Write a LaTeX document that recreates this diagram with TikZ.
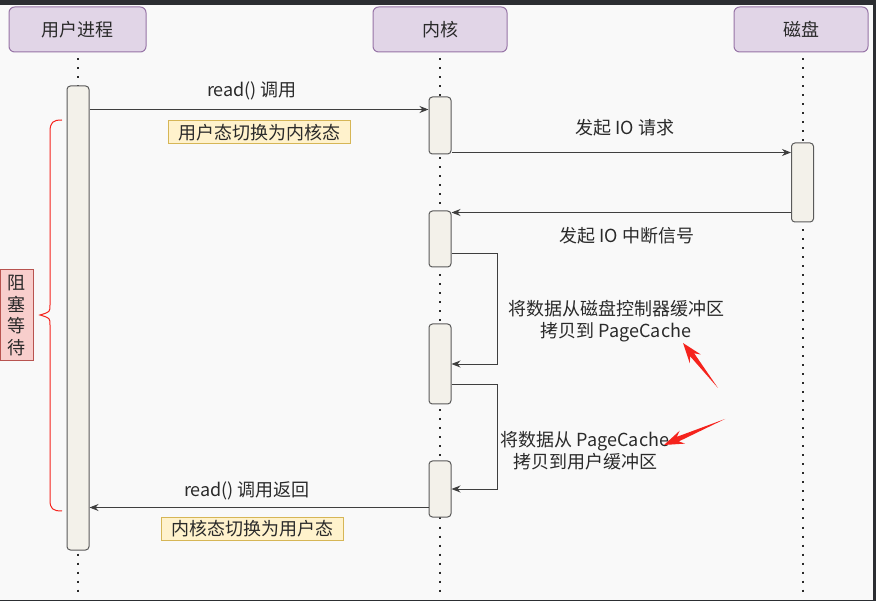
\documentclass[tikz,border=0pt]{standalone}
\usepackage{fontspec}
\setmainfont{Noto Sans CJK SC}
\usetikzlibrary{arrows.meta, positioning, calc}
\definecolor{framedark}{HTML}{2C2E32}
\definecolor{canvasbg}{HTML}{F9F9F9}
\definecolor{headfill}{HTML}{E1D5E7}
\definecolor{headdraw}{HTML}{9673A6}
\definecolor{actfill}{HTML}{F3F1EA}
\definecolor{actdraw}{HTML}{5A5A5A}
\definecolor{notefill}{HTML}{FFF2CC}
\definecolor{notedraw}{HTML}{D6B656}
\definecolor{waitfill}{HTML}{F8CECC}
\definecolor{waitdraw}{HTML}{B85450}
\definecolor{annotred}{HTML}{F5231D}
\definecolor{inkdark}{HTML}{2A2A2A}
\tikzset{
  head_box/.style={rectangle, draw=headdraw, fill=headfill, rounded corners=2mm, line width=1pt, minimum width=134pt, minimum height=45pt, font=\fontsize{18}{21}\selectfont, text=inkdark},
  act_box/.style={rectangle, draw=actdraw, fill=actfill, rounded corners=1.2mm, line width=1pt, minimum width=22pt, inner sep=0pt},
  lifeline/.style={line width=2pt, dash pattern=on 2pt off 7pt, inkdark},
  msg/.style={-{Stealth[length=9pt, width=7pt]}, line width=0.9pt, inkdark!90},
  msg_label/.style={font=\fontsize{18}{22}\selectfont, text=inkdark, align=center},
  note_box/.style={rectangle, draw=notedraw, fill=notefill, line width=1pt, minimum height=23pt, inner sep=1pt, font=\fontsize{18}{20}\selectfont, text=inkdark},
  wait_box/.style={rectangle, draw=waitdraw, fill=waitfill, line width=1pt, minimum width=33pt, minimum height=91pt, inner sep=0pt, align=center, font=\fontsize{18}{21.5}\selectfont, text=inkdark},
  wait_brace/.style={annotred, line width=1pt}
}
% red marker arrow: #1 tail, #2 tip
\newcommand{\markarrow}[2]{%
  \fill[annotred] (#2) -- ($(#2)!20pt!(#1)!7pt!90:(#1)$) -- ($(#2)!15pt!(#1)!2.5pt!90:(#1)$) -- (#1)
    -- ($(#2)!15pt!(#1)!2.5pt!-90:(#1)$) -- ($(#2)!20pt!(#1)!7pt!-90:(#1)$) -- cycle;}

\begin{document}
\begin{tikzpicture}[x=1pt, y=-1pt]

  % Canvas
  \useasboundingbox (0,0) rectangle (876,601);
  \fill[framedark] (0,0) rectangle (876,601);
  \fill[canvasbg] (0,5) rectangle (873,600);
  \coordinate (bot) at (0,598);

  % Participants
  \node[head_box, minimum width=137pt] (hu) at (77.5,29.5) {用户进程};
  \node[head_box] (hk) at (440,29.5) {内核};
  \node[head_box] (hd) at (801,29.5) {磁盘};

  % Lifelines
  \draw[lifeline] ($(hu.south)+(0.5,6)$) -- ($(hu.south |- bot)+(0.5,0)$);
  \draw[lifeline] ($(hk.south)+(0,6)$) -- (hk.south |- bot);
  \draw[lifeline] ($(hd.south)+(1.5,6)$) -- ($(hd.south |- bot)+(1.5,0)$);

  % Activations
  \node[act_box, minimum height=464pt] (u1) at (78,318) {};
  \node[act_box, minimum height=57pt] (k1) at (440,125.5) {};
  \node[act_box, minimum height=79pt] (d1) at (802.5,182.5) {};
  \node[act_box, minimum height=56pt] (k2) at (440,239) {};
  \node[act_box, minimum height=80pt] (k3) at (440,364) {};
  \node[act_box, minimum height=56pt] (k4) at (440,489) {};

  % Messages
  \coordinate (m1) at ($(k1.north west)+(0,13)$);
  \draw[msg] (u1.east |- m1) -- (m1);
  \coordinate (m2) at ($(d1.north west)+(0,10)$);
  \draw[msg] (k1.east |- m2) -- (m2);
  \coordinate (m3) at ($(k2.north east)+(0,2)$);
  \draw[msg] (d1.west |- m3) -- (m3);
  \coordinate (l1) at ($(k2.south east)+(0,-14)$);
  \draw[msg] (l1) -- ++(46,0) |- (k3.east);
  \coordinate (l2) at ($(k3.south east)+(0,-20)$);
  \draw[msg] (l2) -- ++(46,0) |- (k4.east);
  \coordinate (m4) at ($(k4.south west)+(0,-10)$);
  \draw[msg] (m4) -- (m4 -| u1.east);

  % Labels
  \node[msg_label] (lbl_read) at (252,91) {read() 调用};
  \node[note_box, minimum width=182pt] (note_in) at (259,132.5) {用户态切换为内核态};
  \node[msg_label] (lbl_io) at (625,128) {发起 IO 请求};
  \node[msg_label] (lbl_irq) at (627,236) {发起 IO 中断信号};
  \node[msg_label] (lbl_copy1) at (616,321) {将数据从磁盘控制器缓冲区\\拷贝到 PageCache};
  \node[msg_label] (lbl_copy2) at (585,451) {将数据从 PageCache\\拷贝到用户缓冲区};
  \node[msg_label] (lbl_ret) at (247,491) {read() 调用返回};
  \node[note_box, minimum width=182pt] (note_out) at (252,528.5) {内核态切换为用户态};

  % Blocking brace
  \draw[wait_brace] (62,120) .. controls (53,120) and (50,122) .. (50,132) -- (50,305)
    .. controls (50,312) .. (40,315) .. controls (50,318) .. (50,325) -- (50,500)
    .. controls (50,509) and (53,511) .. (62,511);
  \node[wait_box] (wait) at (16.5,315.5) {阻\\塞\\等\\待};

  % Marker arrows
  \coordinate (mk1t) at (718,388);
  \coordinate (mk1h) at (683,343);
  \markarrow{mk1t}{mk1h}
  \coordinate (mk2t) at (725,419);
  \coordinate (mk2h) at (664,445);
  \markarrow{mk2t}{mk2h}

\end{tikzpicture}
\end{document}
